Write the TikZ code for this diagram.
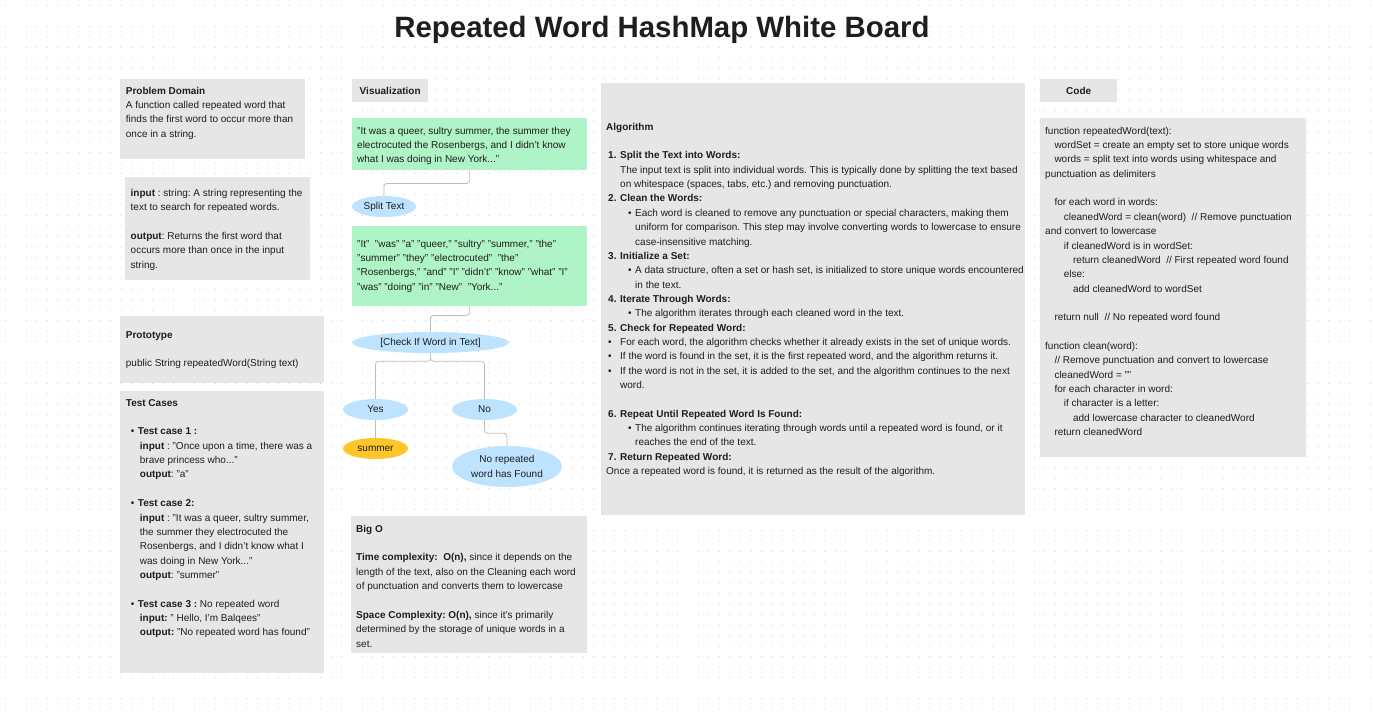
\documentclass[tikz,border=0pt]{standalone}
\usepackage{fontspec}
\setmainfont{Liberation Sans}
\usetikzlibrary{shapes.geometric}
\frenchspacing
\definecolor{ink}{HTML}{1E1E1E}
\definecolor{boxgray}{HTML}{E6E6E6}
\definecolor{mint}{HTML}{AFF4C6}
\definecolor{sky}{HTML}{BDE3FF}
\definecolor{gold}{HTML}{FFC629}
\definecolor{linegray}{HTML}{BDBDBD}
\definecolor{dotgray}{HTML}{D6D6D6}
\tikzset{
  panel/.style={fill=boxgray, draw=none, anchor=north west, inner sep=0pt},
  greenpanel/.style={fill=mint, draw=none, anchor=north west, inner sep=0pt},
  txt/.style={anchor=north west, inner sep=0pt, align=left, text=ink,
    font=\fontsize{10}{14.35}\selectfont\frenchspacing},
  ctxt/.style={inner sep=0pt, align=center, text=ink,
    font=\fontsize{10}{14.35}\selectfont},
  oval/.style={ellipse, draw=none, inner sep=0pt, text=ink,
    font=\fontsize{10}{14.35}\selectfont, align=center},
  conn/.style={draw=linegray, line width=0.8pt, rounded corners=3pt},
}
\newcommand{\st}{\rule{0pt}{8pt}}
\newcommand{\bul}[1]{\hspace*{#1}\makebox[7pt][l]{\textbullet}}
\begin{document}
\begin{tikzpicture}[x=1pt,y=-1pt]
\useasboundingbox (0,0) rectangle (1373,716);
\fill[white] (0,0) rectangle (1373,716);
% dot grid
\foreach \yy in {5.5,16,...,716}
  \draw[dotgray, line width=1.3pt, line cap=round, dash pattern=on 0pt off 10.5pt] (5.5,\yy) -- (1373,\yy);

% title
\node[anchor=base, inner sep=0pt, text=ink, font=\fontsize{29.4}{32}\selectfont\bfseries] (title) at (662,37.5) {Repeated Word HashMap White Board};

% ---------- left column ----------
\node[panel, minimum width=185pt, minimum height=80pt] (pdbox) at (120,79) {};
\node[txt] (pdtext) at (125.7,86) {\st\textbf{Problem Domain}\\
A function called repeated word that\\
finds the first word to occur more than\\
once in a string.};

\node[panel, minimum width=185pt, minimum height=103pt] (iobox) at (125,177) {};
\node[txt] (iotext) at (130.5,188.2) {\st\textbf{input} : string: A string representing the\\
text to search for repeated words.\\[14.35pt]
\textbf{output}: Returns the first word that\\
occurs more than once in the input\\
string.};

\node[panel, minimum width=204pt, minimum height=67pt] (protobox) at (120,316) {};
\node[txt] (prototext) at (125.7,330) {\st\textbf{Prototype}\\[14.35pt]
public String repeatedWord(String text)};

\node[panel, minimum width=204pt, minimum height=282pt] (testbox) at (120,391) {};
\node[txt] (testtext) at (125.7,398) {\st\textbf{Test Cases}\\[14.35pt]
\bul{5pt}\textbf{Test case 1 :}\\
\hspace*{14pt}\textbf{input} : "Once upon a time, there was a\\
\hspace*{14pt}brave princess who..."\\
\hspace*{14pt}\textbf{output}: "a"\\[14.35pt]
\bul{5pt}\textbf{Test case 2:}\\
\hspace*{14pt}\textbf{input} : "It was a queer, sultry summer,\\
\hspace*{14pt}the summer they electrocuted the\\
\hspace*{14pt}Rosenbergs, and I didn't know what I\\
\hspace*{14pt}was doing in New York..."\\
\hspace*{14pt}\textbf{output}: "summer"\\[14.35pt]
\bul{5pt}\textbf{Test case 3 :} No repeated word\\
\hspace*{14pt}\textbf{input:} " Hello, I'm Balqees"\\
\hspace*{14pt}\textbf{output:} "No repeated word has found"};

% ---------- visualization ----------
\node[panel, minimum width=76pt, minimum height=23pt] (vislabel) at (352,79) {};
\node[ctxt] (vistext) at (vislabel.center) {\textbf{Visualization}};

\node[greenpanel, minimum width=235pt, minimum height=52pt] (g1) at (352,118) {};
\node[txt] (g1text) at (357,126) {\st"It was a queer, sultry summer, the summer they\\
electrocuted the Rosenbergs, and I didn't know\\
what I was doing in New York..."};

\node[oval, fill=sky, minimum width=64pt, minimum height=21pt] (split) at (384,206.5) {Split Text};

\node[greenpanel, minimum width=235pt, minimum height=80pt] (g2) at (352,226) {};
\node[txt] (g2text) at (357,239) {\st"It"\ \ "was" "a" "queer," "sultry" "summer," "the"\\
"summer" "they" "electrocuted"\ \ "the"\\
"Rosenbergs," "and" "I" "didn't" "know" "what" "I"\\
"was" "doing" "in" "New"\ \ "York..."};

\node[oval, fill=sky, minimum width=157pt, minimum height=21pt] (check) at (430.5,342.5) {[Check If Word in Text]};
\node[oval, fill=sky, minimum width=65pt, minimum height=21pt] (yes) at (375.5,409.5) {Yes};
\node[oval, fill=sky, minimum width=65pt, minimum height=21pt] (no) at (484.5,409.5) {No};
\node[oval, fill=gold, minimum width=65pt, minimum height=21pt] (summer) at (375.5,448.5) {summer};
\node[oval, fill=sky, minimum width=110pt, minimum height=41pt] (found) at (507,466.5) {No repeated\\word has Found};

\draw[conn] (g1.south) -- ++(0,13) -| (split.north);
\draw[conn] (g2.south) -- ++(0,9) -| (check.north);
\draw[conn] (check.south) -- ++(0,8) -| (yes.north);
\draw[conn] (check.south) -- ++(0,8) -| (no.north);
\draw[conn] (yes.south) -- (summer.north);
\draw[conn] (no.south) -- ++(0,13) -| (found.north);

\node[panel, minimum width=236pt, minimum height=137pt] (bigobox) at (351,516) {};
\node[txt] (bigotext) at (356,524) {\st\textbf{Big O}\\[14.35pt]
\textbf{Time complexity:\ \ O(n),} since it depends on the\\
length of the text, also on the Cleaning each word\\
of punctuation and converts them to lowercase\\[14.35pt]
\textbf{Space Complexity: O(n),} since it's primarily\\
determined by the storage of unique words in a\\
set.};

% ---------- algorithm ----------
\node[panel, minimum width=424pt, minimum height=432pt] (algobox) at (601,83) {};
\node[txt] (algotext) at (606,122) {\st\textbf{Algorithm}\\[14.35pt]
\hspace*{2pt}\makebox[12pt][l]{\textbf{1.}}\textbf{Split the Text into Words:}\\
\hspace*{14pt}The input text is split into individual words. This is typically done by splitting the text based\\
\hspace*{14pt}on whitespace (spaces, tabs, etc.) and removing punctuation.\\
\hspace*{2pt}\makebox[12pt][l]{\textbf{2.}}\textbf{Clean the Words:}\\
\bul{22pt}Each word is cleaned to remove any punctuation or special characters, making them\\
\hspace*{29pt}uniform for comparison. This step may involve converting words to lowercase to ensure\\
\hspace*{29pt}case-insensitive matching.\\
\hspace*{2pt}\makebox[12pt][l]{\textbf{3.}}\textbf{Initialize a Set:}\\
\bul{22pt}A data structure, often a set or hash set, is initialized to store unique words encountered\\
\hspace*{29pt}in the text.\\
\hspace*{2pt}\makebox[12pt][l]{\textbf{4.}}\textbf{Iterate Through Words:}\\
\bul{22pt}The algorithm iterates through each cleaned word in the text.\\
\hspace*{2pt}\makebox[12pt][l]{\textbf{5.}}\textbf{Check for Repeated Word:}\\
\hspace*{2pt}\makebox[12pt][l]{\textbullet}For each word, the algorithm checks whether it already exists in the set of unique words.\\
\hspace*{2pt}\makebox[12pt][l]{\textbullet}If the word is found in the set, it is the first repeated word, and the algorithm returns it.\\
\hspace*{2pt}\makebox[12pt][l]{\textbullet}If the word is not in the set, it is added to the set, and the algorithm continues to the next\\
\hspace*{14pt}word.\\[14.35pt]
\hspace*{2pt}\makebox[12pt][l]{\textbf{6.}}\textbf{Repeat Until Repeated Word Is Found:}\\
\bul{22pt}The algorithm continues iterating through words until a repeated word is found, or it\\
\hspace*{29pt}reaches the end of the text.\\
\hspace*{2pt}\makebox[12pt][l]{\textbf{7.}}\textbf{Return Repeated Word:}\\
Once a repeated word is found, it is returned as the result of the algorithm.};

% ---------- code ----------
\node[panel, minimum width=77pt, minimum height=23pt] (codelabel) at (1040,79) {};
\node[ctxt] (codelabeltext) at (codelabel.center) {\textbf{Code}};

\node[panel, minimum width=266pt, minimum height=339pt] (codebox) at (1040,118) {};
\node[txt] (codetext) at (1045,126) {\st function repeatedWord(text):\\
\hspace*{9.3pt}wordSet = create an empty set to store unique words\\
\hspace*{9.3pt}words = split text into words using whitespace and\\
punctuation as delimiters\\[14.35pt]
\hspace*{9.3pt}for each word in words:\\
\hspace*{18.6pt}cleanedWord = clean(word)\ \ // Remove punctuation\\
and convert to lowercase\\
\hspace*{18.6pt}if cleanedWord is in wordSet:\\
\hspace*{27.9pt}return cleanedWord\ \ // First repeated word found\\
\hspace*{18.6pt}else:\\
\hspace*{27.9pt}add cleanedWord to wordSet\\[14.35pt]
\hspace*{9.3pt}return null\ \ // No repeated word found\\[14.35pt]
function clean(word):\\
\hspace*{9.3pt}// Remove punctuation and convert to lowercase\\
\hspace*{9.3pt}cleanedWord = ""\\
\hspace*{9.3pt}for each character in word:\\
\hspace*{18.6pt}if character is a letter:\\
\hspace*{27.9pt}add lowercase character to cleanedWord\\
\hspace*{9.3pt}return cleanedWord};
\end{tikzpicture}
\end{document}
